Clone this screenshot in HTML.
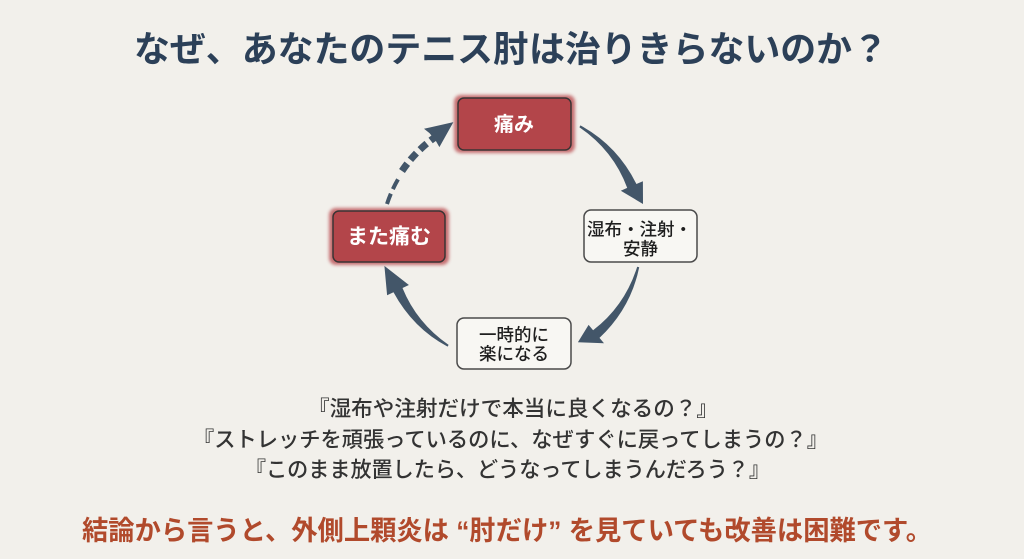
<!DOCTYPE html>
<html><head><meta charset="utf-8"><style>
html,body{margin:0;padding:0;background:#f2f0eb;}
svg{display:block;}
text{font-family:"Liberation Sans","Noto Sans CJK JP",sans-serif;}
</style></head><body>
<svg width="1024" height="559" viewBox="0 0 1024 559" xmlns="http://www.w3.org/2000/svg">
<defs>
<filter id="blur" x="-20%" y="-30%" width="140%" height="160%"><feGaussianBlur stdDeviation="1.6"/></filter>
</defs>
<rect width="1024" height="559" fill="#f2f0eb"/>

<!-- Title -->
<text x="511" y="49" text-anchor="middle" dominant-baseline="central" font-size="36" font-weight="bold" fill="#2c4058" textLength="754" lengthAdjust="spacingAndGlyphs">なぜ、あなたのテニス肘は治りきらないのか？</text>

<!-- Red box: 痛み -->
<rect x="454" y="95" width="121" height="58" rx="7" fill="#bb4f53" opacity="0.8" filter="url(#blur)"/>
<rect x="458" y="98" width="113" height="52" rx="6" fill="#b3454a"/>
<rect x="458" y="98" width="113" height="52" rx="6" fill="none" stroke="#3a3434" stroke-width="1.5"/>
<text x="514" y="125" text-anchor="middle" dominant-baseline="central" font-size="20" font-weight="bold" fill="#ffffff">痛み</text>

<!-- Red box: また痛む -->
<rect x="329" y="208" width="120" height="57" rx="7" fill="#bb4f53" opacity="0.8" filter="url(#blur)"/>
<rect x="333" y="211" width="112" height="51" rx="6" fill="#b3454a"/>
<rect x="333" y="211" width="112" height="51" rx="6" fill="none" stroke="#3a3434" stroke-width="1.5"/>
<text x="389" y="237" text-anchor="middle" dominant-baseline="central" font-size="21" font-weight="bold" fill="#ffffff">また痛む</text>

<!-- White box: 湿布・注射・安静 -->
<rect x="584" y="210" width="113" height="52" rx="7" fill="#f8f7f3" stroke="#4a4a4a" stroke-width="1.5"/>
<text x="639.5" y="229.5" text-anchor="middle" dominant-baseline="central" font-size="17.5" font-weight="500" fill="#1f1f1f">湿布・注射・</text>
<text x="640.5" y="249" text-anchor="middle" dominant-baseline="central" font-size="17.5" font-weight="500" fill="#1f1f1f">安静</text>

<!-- White box: 一時的に楽になる -->
<rect x="457" y="318" width="114" height="51" rx="7" fill="#f8f7f3" stroke="#4a4a4a" stroke-width="1.5"/>
<text x="514" y="335" text-anchor="middle" dominant-baseline="central" font-size="17.5" font-weight="500" fill="#1f1f1f">一時的に</text>
<text x="514" y="354" text-anchor="middle" dominant-baseline="central" font-size="17.5" font-weight="500" fill="#1f1f1f">楽になる</text>

<!-- Arrows -->
<g fill="#435669">
<path d="M580.4,125.4 Q617.4,145.5 636.4,184.0 L642.9,181.3 L643,204 L620.8,190.7 L627.2,187.9 Q613.5,150.5 579.4,127.2 Z"/>
<path d="M639.2,267.2 Q630.85,308.25 599.5,337.9 L604.0,343.2 L577.9,342.3 L588.6,324.9 L593.1,330.2 Q624.85,305.95 637.2,266.7 Z"/>
<path d="M447.6,346.6 Q412.85,328.0 393.5,292.2 L387.1,295.2 L384.4,265.9 L408.9,285.0 L402.5,288.0 Q416.65,322.75 448.6,344.9 Z"/>
<path d="M429.5,133.1 L424.0,128.8 L453.4,122.1 L439.4,147.1 L435.9,141.0 Z"/>
</g>
<path d="M387,204 A128,128 0 0 1 400,176" fill="none" stroke="#435669" stroke-width="4" stroke-dasharray="11 5"/>
<path d="M402,171 A128,128 0 0 1 434,138" fill="none" stroke="#435669" stroke-width="7" stroke-dasharray="9 5"/>

<!-- Questions -->
<text x="513" y="409" text-anchor="middle" dominant-baseline="central" font-size="21.5" font-weight="500" fill="#333333" textLength="410" lengthAdjust="spacingAndGlyphs">『湿布や注射だけで本当に良くなるの？』</text>
<text x="510.5" y="440" text-anchor="middle" dominant-baseline="central" font-size="21.5" font-weight="500" fill="#333333" textLength="635" lengthAdjust="spacingAndGlyphs">『ストレッチを頑張っているのに、なぜすぐに戻ってしまうの？』</text>
<text x="507.5" y="470" text-anchor="middle" dominant-baseline="central" font-size="21.5" font-weight="500" fill="#333333" textLength="525" lengthAdjust="spacingAndGlyphs">『このまま放置したら、どうなってしまうんだろう？』</text>

<!-- Conclusion -->
<text x="507" y="531" text-anchor="middle" dominant-baseline="central" font-size="27" font-weight="bold" fill="#b14a2c" textLength="850" lengthAdjust="spacingAndGlyphs">結論から言うと、外側上顆炎は “肘だけ” を見ていても改善は困難です。</text>
</svg>
</body></html>
